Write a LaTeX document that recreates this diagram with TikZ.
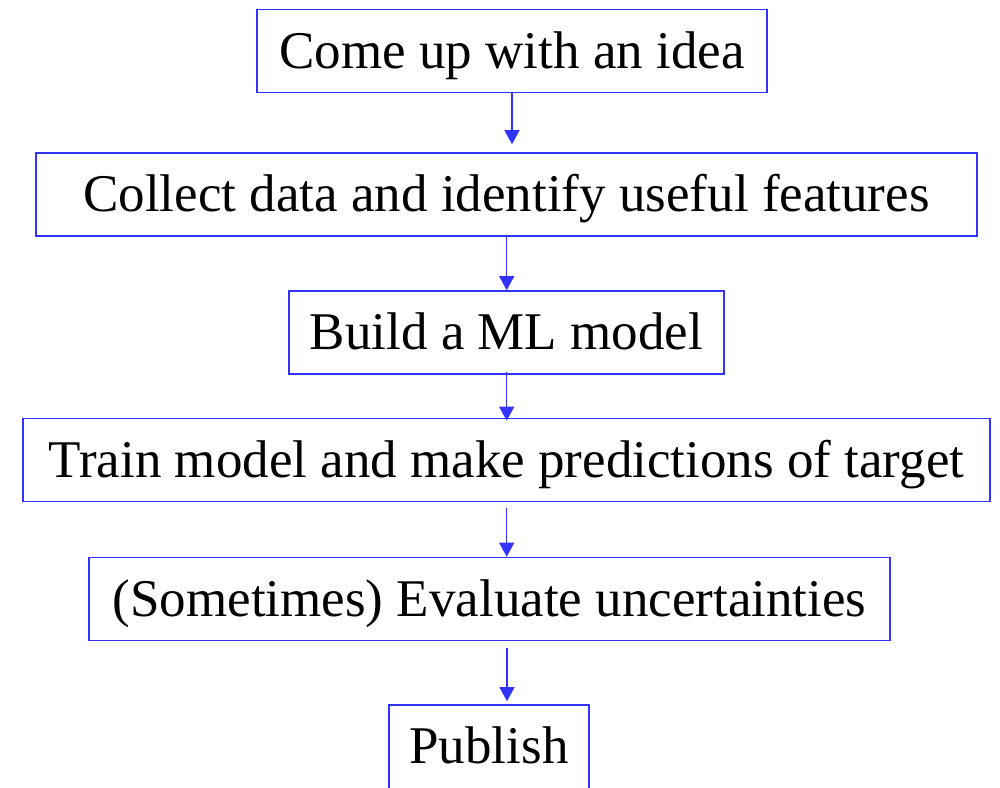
\documentclass[tikz,border=0pt]{standalone}
\usepackage{fontspec}
\setmainfont{Liberation Serif}
\usetikzlibrary{arrows.meta,calc}
\definecolor{fb}{RGB}{51,51,255}
\tikzset{
  box/.style={draw=fb, line width=1.6pt, inner sep=0pt, anchor=center,
    minimum height=83pt, text height=58.5pt, text depth=24.5pt,
    font=\fontsize{53}{60}\selectfont, text=black},
  arr/.style={draw=fb, line width=1.3pt, -{Triangle[width=15pt,length=14pt]}}
}
\begin{document}
\begin{tikzpicture}[x=1pt,y=-1pt]
\useasboundingbox (0,0) rectangle (1000,787);
\begin{scope}
\clip (0,0) rectangle (1000,787);
\node[box, minimum width=510pt] (b1) at (512,51) {Come up with an idea};
\node[box, minimum width=941pt] (b2) at (506.5,194.5) {Collect data and identify useful features};
\node[box, minimum width=435pt] (b3) at (506.5,332.5) {Build a ML model};
\node[box, minimum width=967pt] (b4) at (506.5,460) {Train model and make predictions of target};
\node[box, minimum width=801pt] (b5) at (489.5,599) {(Sometimes) Evaluate uncertainties};
\node[box, minimum width=200pt, minimum height=95pt, text depth=36.5pt] (b6) at (489,752.5) {Publish};
\end{scope}
\draw[arr, shorten >=8pt] (b1.south) -- (b1.south |- b2.north);
\draw[arr] ($(b2.south)+(0.2,0)$) -- ($(b2.south |- b3.north)+(0.2,0)$);
\draw[arr, shorten <=-3pt, shorten >=-3pt] ($(b3.south)+(0.2,0)$) -- ($(b3.south |- b4.north)+(0.2,0)$);
\draw[arr, shorten <=6pt] ($(b4.south)+(0.2,0)$) -- ($(b4.south |- b5.north)+(0.2,0)$);
\draw[arr, shorten <=7pt, shorten >=3pt] ($(b5.south)+(17.5,0)$) -- ($(b5.south |- b6.north)+(17.5,0)$);
\end{tikzpicture}
\end{document}
